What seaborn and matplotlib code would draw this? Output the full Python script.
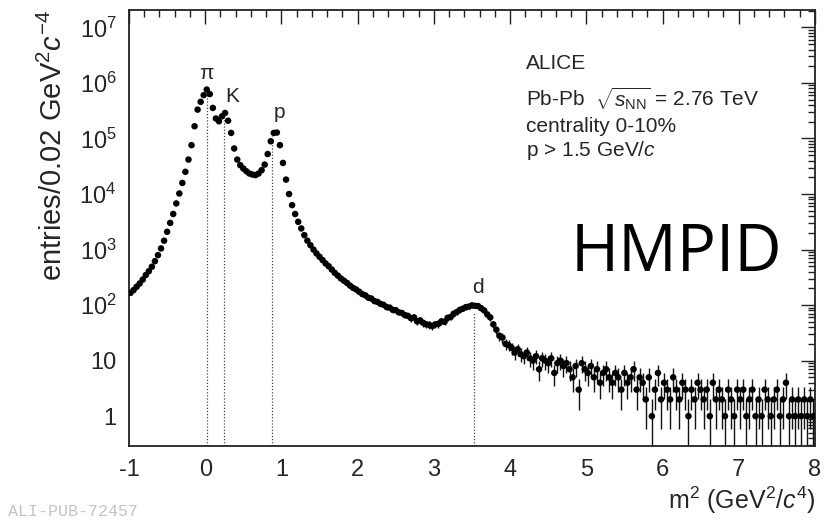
import numpy as np
import pandas as pd
import matplotlib
matplotlib.use("Agg")
import matplotlib.pyplot as plt
import seaborn as sns
from matplotlib.ticker import FixedLocator, FixedFormatter, MultipleLocator, LogLocator, NullFormatter

# ---------------- data ----------------
bin_centers = np.round(np.arange(-0.98, 8.0, 0.04), 2)

counts_m1_0 = [166, 186, 214, 245, 288, 347, 407, 490, 617, 794,
               1047, 1445, 2089, 3020, 4365, 6761, 10230, 15850, 25120, 41690,
               75860, 166000, 331000, 457000, 603000]
counts_0_1 = [760000, 631000, 355000, 229000, 204000, 251000, 288000, 209000, 126000, 66100,
              41700, 33100, 28800, 25700, 23400, 22400, 21900, 23400, 26900, 33900,
              52500, 89100, 126000, 128000, 75900]
counts_1_2 = [36300, 18200, 10000, 6310, 4365, 3160, 2400, 1820, 1445, 1200,
              1000, 851, 741, 646, 562, 501, 437, 380, 339, 302,
              275, 251, 224, 204, 191]
counts_2_3 = [174, 158, 150, 136, 131, 118, 114, 105, 101, 92,
              90, 82, 81, 74, 72, 66, 64, 58, 60, 51,
              53, 48, 45, 44, 42]
counts_3_4 = [45, 46, 51, 50, 59, 61, 70, 75, 82, 86,
              92, 94, 99, 97, 96, 88, 80, 68, 60, 45,
              36, 28, 26, 20, 19]
counts_4_5 = [17, 14, 16, 13, 12, 14, 11, 10, 12, 7,
              11, 10, 9, 11, 6, 9, 10, 8, 9, 7,
              5, 8, 3, 9, 7]
counts_5_6 = [6, 8, 5, 7, 4, 6, 7, 5, 4, 6,
              5, 3, 6, 4, 5, 7, 3, 5, 4, 2,
              5, 1, 3, 6, 2]
counts_6_7 = [4, 3, 2, 5, 3, 2, 4, 3, 1, 3,
              2, 4, 3, 2, 3, 1, 4, 2, 3, 2,
              1, 3, 2, 1, 3]
counts_7_8 = [2, 3, 1, 2, 3, 1, 2, 1, 3, 2,
              1, 2, 3, 1, 2, 4, 1, 2, 1, 2,
              1, 2, 1, 2, 1]

counts = np.array(counts_m1_0 + counts_0_1 + counts_1_2 + counts_2_3 + counts_3_4
                  + counts_4_5 + counts_5_6 + counts_6_7 + counts_7_8, dtype=float)

peak_names = ["π", "K", "p", "d"]
peak_m2 = [0.0195, 0.244, 0.880, 3.52]
peak_line_top = [6.0e5, 2.4e5, 1.1e5, 75]
peak_label_x = [0.01, 0.35, 0.98, 3.58]
peak_label_y = [1.45e6, 5.6e5, 2.9e5, 205]

ytick_vals = [1, 10, 1e2, 1e3, 1e4, 1e5, 1e6, 1e7]
ytick_labels = ["1", "10", "10$^{2}$", "10$^{3}$", "10$^{4}$", "10$^{5}$", "10$^{6}$", "10$^{7}$"]

df = pd.DataFrame({"m2": bin_centers, "entries": counts})

# ---------------- style ----------------
sns.set_style("white")
plt.rcParams["font.family"] = ["Liberation Sans", "DejaVu Sans"]
plt.rcParams["mathtext.fontset"] = "custom"
plt.rcParams["mathtext.rm"] = "Liberation Sans"
plt.rcParams["mathtext.it"] = "Liberation Sans:italic"
plt.rcParams["mathtext.bf"] = "Liberation Sans:bold"
plt.rcParams["axes.unicode_minus"] = False

fig = plt.figure(figsize=(8.35, 5.2), dpi=100)
ax = fig.add_axes([0.1545, 0.1423, 0.8215, 0.8387])

# error bars (Poisson)
err = np.sqrt(counts)
lower = np.minimum(err, counts * 0.999)
ax.errorbar(df["m2"], df["entries"], yerr=[lower, err], xerr=0.02,
            fmt="none", ecolor="#111111", elinewidth=1.0, capsize=0, zorder=2)
sns.scatterplot(data=df, x="m2", y="entries", ax=ax, color="black", s=22,
                edgecolor="none", zorder=3, legend=False)

ax.set_yscale("log")
ax.set_xlim(-1, 8)
ax.set_ylim(0.29, 2.07e7)

# dotted peak lines and labels
for xm, top in zip(peak_m2, peak_line_top):
    ax.plot([xm, xm], [0.29, top], ls=(0, (1, 1.5)), color="#444444", lw=0.9, zorder=1)
for name, lx, ly in zip(peak_names, peak_label_x, peak_label_y):
    ax.text(lx, ly, name, ha="center", va="center", fontsize=15)

# ticks
ax.yaxis.set_major_locator(FixedLocator(ytick_vals))
ax.yaxis.set_major_formatter(FixedFormatter(ytick_labels))
ax.yaxis.set_minor_locator(LogLocator(base=10, subs=np.arange(2, 10)))
ax.yaxis.set_minor_formatter(NullFormatter())
ax.xaxis.set_major_locator(MultipleLocator(1))
ax.xaxis.set_minor_locator(MultipleLocator(0.2))
ax.tick_params(which="both", direction="in", top=True, right=True, width=1.0, color="#222222")
ax.tick_params(which="major", length=10, labelsize=17, pad=9)
ax.tick_params(which="minor", length=5)
for s in ax.spines.values():
    s.set_visible(True)
    s.set_linewidth(1.3)
    s.set_color("#222222")

ax.set_ylabel("entries/0.02 GeV$^{2}$$\\mathit{c}^{-4}$", fontsize=21, loc="top", labelpad=8)
ax.set_xlabel("m$^{2}$ (GeV$^{2}$/$\\mathit{c}^{4}$)", fontsize=18, loc="right", labelpad=3)

# annotations
ax.text(0.579, 0.865, "ALICE", transform=ax.transAxes, fontsize=15, va="baseline")
ax.text(0.579, 0.778, "Pb-Pb  $\\sqrt{s_{\\mathrm{NN}}}$ = 2.76 TeV", transform=ax.transAxes,
        fontsize=15, va="baseline")
ax.text(0.579, 0.721, "centrality 0-10%", transform=ax.transAxes, fontsize=15, va="baseline")
ax.text(0.579, 0.664, "p > 1.5 GeV/$\\mathit{c}$", transform=ax.transAxes, fontsize=15, va="baseline")

fig.text(676 / 835, 1 - 254 / 520, "HMPID", fontsize=47, ha="center", va="center",
         family=["Open Sans", "DejaVu Sans"], color="black")
fig.text(8 / 835, 0.002, "ALI-PUB-72457", fontsize=12, color="#c4c4c4",
         family=["Liberation Mono", "DejaVu Sans Mono"], va="bottom")

fig.savefig("out.png", dpi=100)
